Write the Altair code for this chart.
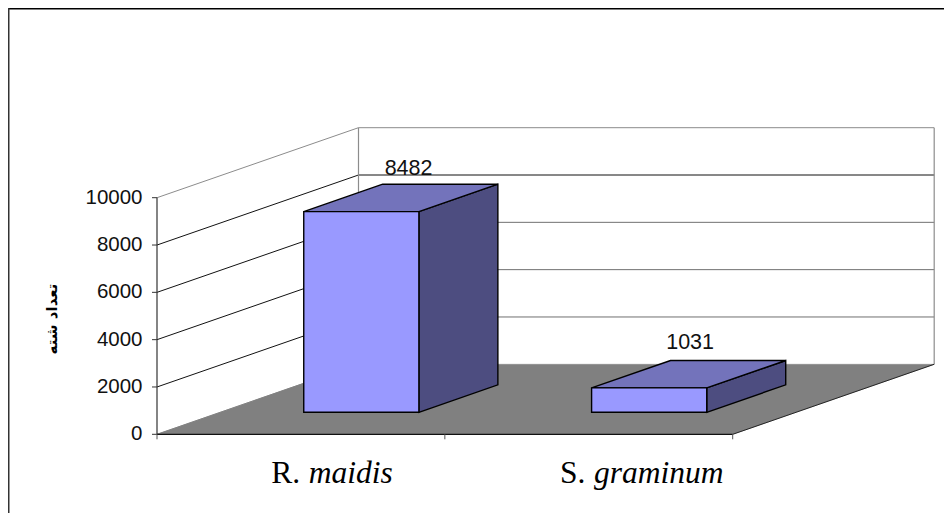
import altair as alt
import pandas as pd

# values
GENUS = ["R.", "S."]
SPECIES = ["maidis", "graminum"]
VALUES = [8482, 1031]
VALUE_LABELS = ["8482", "1031"]
Y_TICKS = [0, 2000, 4000, 6000, 8000, 10000]
X_TICKS = [0, 1, 2]
Y_TITLE = "تعداد شته"

# chart size and scales (one category = CAT_PX pixels, one count = VAL_PX pixels)
W, H = 936, 505
CAT_PX, VAL_PX = 287.85, 0.02366
ORIGIN_X, ORIGIN_Y = 149.0, 426.3
sx = alt.Scale(domain=[-ORIGIN_X / CAT_PX, (W - ORIGIN_X) / CAT_PX], nice=False, zero=False)
sy = alt.Scale(domain=[-(H - ORIGIN_Y) / VAL_PX, ORIGIN_Y / VAL_PX], nice=False, zero=False)

# oblique projection of the depth axis
DEPTH_X, DEPTH_Y = 0.70, 2959.0
BAR_D0, BAR_D1 = 0.314, 0.706
BAR_START, BAR_W = 0.29, 0.40
LABEL_X = [0.874, 1.852]
SPLIT_X = [0.527, 1.518]
LABEL_PAD = [400, 490]

FRONT, TOP, SIDE = "#9999FF", "#7373BB", "#4D4D80"
FLOOR = "#808080"
WALL_LINE = "#8C8C8C"
BACK_GRID = "#707070"


def X(f="x"):
    return alt.X(f"{f}:Q", scale=sx, axis=None)


def Y(f="y"):
    return alt.Y(f"{f}:Q", scale=sy, axis=None)


def vface(x0, x1, d0, d1, v0, v1, fill, sw=1.4):
    """Face whose left/right edges are vertical."""
    df = pd.DataFrame({
        "x": [x0 + d0 * DEPTH_X, x1 + d1 * DEPTH_X],
        "y": [v0 + d0 * DEPTH_Y, v0 + d1 * DEPTH_Y],
        "y2": [v1 + d0 * DEPTH_Y, v1 + d1 * DEPTH_Y],
    })
    return alt.Chart(df).mark_area(orient="vertical", fill=fill, stroke="black", strokeWidth=sw, clip=False).encode(
        x=X(), y=Y(), y2="y2:Q")


def hface(x0, x1, d0, d1, v, fill, stroke="black", sw=1.4):
    """Face whose front/back edges are horizontal."""
    df = pd.DataFrame({
        "y": [v + d0 * DEPTH_Y, v + d1 * DEPTH_Y],
        "x": [x0 + d0 * DEPTH_X, x0 + d1 * DEPTH_X],
        "x2": [x1 + d0 * DEPTH_X, x1 + d1 * DEPTH_X],
    })
    return alt.Chart(df).mark_area(orient="horizontal", fill=fill, stroke=stroke, strokeWidth=sw).encode(
        x=X(), x2="x2:Q", y=Y())


def seg(points, color, sw=1.0):
    df = pd.DataFrame(points, columns=["x", "y"])
    df["o"] = range(len(df))
    return alt.Chart(df).mark_line(color=color, strokeWidth=sw).encode(
        x=X(), y=Y(), order="o:Q")


layers = []

# outer frame
frame = pd.DataFrame({"a": [0]})
layers.append(alt.Chart(frame).mark_rule(color="black", strokeWidth=2).encode(
    x=alt.value(0), x2=alt.value(W), y=alt.value(0.5)))
layers.append(alt.Chart(frame).mark_rule(color="#333333", strokeWidth=2).encode(
    x=alt.value(0.5), y=alt.value(0), y2=alt.value(H)))

# floor
layers.append(hface(0, 2, 0, 1, 0, FLOOR, stroke=FLOOR, sw=0.5))

# back wall and side wall gridlines
for t in Y_TICKS[1:]:
    top = t == Y_TICKS[-1]
    back_col = WALL_LINE if top else ("#111111" if t == 8000 else BACK_GRID)
    side_col = WALL_LINE if top else "#111111"
    layers.append(seg([(0, t), (DEPTH_X, t + DEPTH_Y)], side_col, 1.0))
    layers.append(seg([(DEPTH_X, t + DEPTH_Y), (2 + DEPTH_X, t + DEPTH_Y)], back_col, 1.0))
layers.append(seg([(DEPTH_X, DEPTH_Y), (DEPTH_X, Y_TICKS[-1] + DEPTH_Y)], WALL_LINE, 1.2))
layers.append(seg([(2 + DEPTH_X, DEPTH_Y), (2 + DEPTH_X, Y_TICKS[-1] + DEPTH_Y)], WALL_LINE, 1.2))

# floor edges
layers.append(seg([(2, 0), (2 + DEPTH_X, DEPTH_Y)], "#222222", 1.0))
layers.append(seg([(0, 0), (DEPTH_X, DEPTH_Y)], FLOOR, 1.0))

# bars
for i, v in enumerate(VALUES):
    x0 = i + BAR_START
    x1 = x0 + BAR_W
    layers.append(vface(x1, x1, BAR_D0, BAR_D1, 0, v, SIDE))
    layers.append(hface(x0, x1, BAR_D0, BAR_D1, v, TOP))
    layers.append(vface(x0, x1, BAR_D0, BAR_D0, 0, v, FRONT))

# axes
layers.append(seg([(0, 0), (0, Y_TICKS[-1])], "#333333", 1.2))
layers.append(seg([(0, 0), (2, 0)], "#111111", 1.2))
TICK_X = 5 / CAT_PX
TICK_Y = 5 / VAL_PX
for t in Y_TICKS:
    layers.append(seg([(-TICK_X, t), (0, t)], "#333333", 1.0))
for t in X_TICKS:
    layers.append(seg([(t, 0), (t, -TICK_Y)], "#555555", 1.0))

# y tick labels
ydf = pd.DataFrame({"y": Y_TICKS, "x": [0] * len(Y_TICKS), "t": [str(t) for t in Y_TICKS]})
layers.append(alt.Chart(ydf).mark_text(
    align="right", baseline="middle", dx=-14.5, font="Liberation Sans", fontSize=20.5, color="#111111"
).encode(x=X(), y=Y(), text="t:N"))

# value labels
vdf = pd.DataFrame({
    "x": LABEL_X,
    "y": [v + BAR_D1 * DEPTH_Y + p for v, p, in zip(VALUES, LABEL_PAD)],
    "t": VALUE_LABELS,
})
layers.append(alt.Chart(vdf).mark_text(
    align="center", baseline="alphabetic", font="Liberation Sans", fontSize=21.5, color="#111111"
).encode(x=X(), y=Y(), text="t:N"))

# category labels: plain genus, italic species
CAT_Y = -(483 - 434.3) / VAL_PX
gdf = pd.DataFrame({"x": SPLIT_X, "y": [CAT_Y] * 2, "t": GENUS})
sdf = pd.DataFrame({"x": SPLIT_X, "y": [CAT_Y] * 2, "t": SPECIES})
layers.append(alt.Chart(gdf).mark_text(
    align="right", baseline="alphabetic", dx=-8.5, font="Liberation Serif", fontSize=31.5, color="black"
).encode(x=X(), y=Y(), text="t:N"))
layers.append(alt.Chart(sdf).mark_text(
    align="left", baseline="alphabetic", font="Liberation Serif", fontStyle="italic", fontSize=31.5, color="black"
).encode(x=X(), y=Y(), text="t:N"))

# y title
tdf = pd.DataFrame({"x": [-(157 - 52) / CAT_PX], "y": [(434.3 - 319) / VAL_PX], "t": [Y_TITLE]})
layers.append(alt.Chart(tdf).mark_text(
    angle=270, align="center", baseline="middle", font="DejaVu Sans", fontWeight="bold", fontSize=15, color="black"
).encode(x=X(), y=Y(), text="t:N"))

chart = alt.layer(*layers).properties(
    width=W, height=H, padding=0, autosize=alt.AutoSizeParams(type="none")
).configure_view(stroke=None)
chart.save("out.html", embed_options={"renderer": "svg", "actions": False})
